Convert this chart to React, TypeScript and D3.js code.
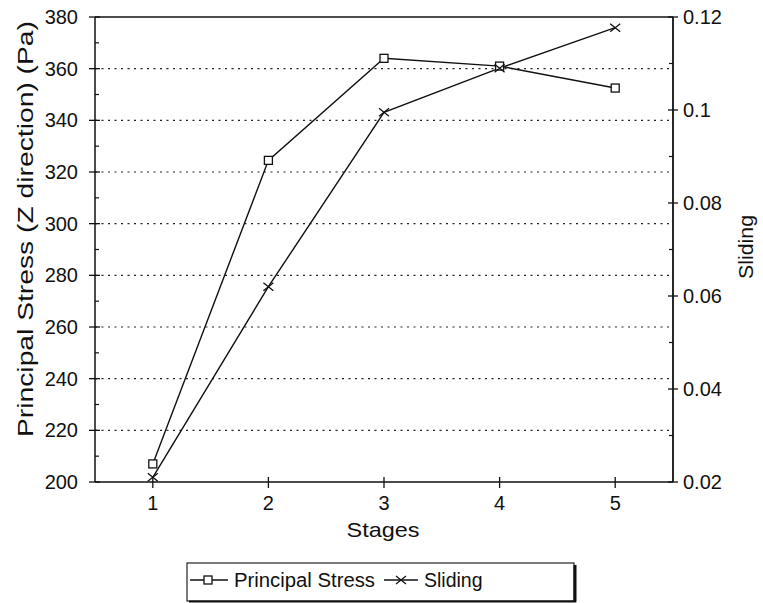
import React from 'react';
import { scaleLinear, line, range } from 'd3';

const stages = [1, 2, 3, 4, 5];
const principalStress = [207, 324.5, 364, 361, 352.5];
const sliding = [0.021, 0.062, 0.0995, 0.109, 0.1177];
const leftTicks = [200, 220, 240, 260, 280, 300, 320, 340, 360, 380];
const rightTicks = [0.02, 0.04, 0.06, 0.08, 0.1, 0.12];
const xTicks = [1, 2, 3, 4, 5];

const W = 763;
const H = 603;
const plot = { left: 95, right: 673, top: 17, bottom: 482 };
const font = 'Liberation Sans, Arial, sans-serif';

const App = () => {
  const x = scaleLinear().domain([0.5, 5.5]).range([plot.left, plot.right]);
  const yL = scaleLinear().domain([200, 380]).range([plot.bottom, plot.top]);
  const yR = scaleLinear().domain([0.02, 0.12]).range([plot.bottom, plot.top]);

  const stressLine = line<number>()
    .x((_, i) => x(stages[i]))
    .y((d) => yL(d));
  const slidingLine = line<number>()
    .x((_, i) => x(stages[i]))
    .y((d) => yR(d));

  const leftMinor = range(210, 380, 20);
  const rightMinor = range(0.03, 0.12, 0.02);

  const square = (cx: number, cy: number, k: string) => (
    <rect key={k} x={cx - 4} y={cy - 4} width={8} height={8} fill="white" stroke="#111" strokeWidth={1.3} />
  );
  const cross = (cx: number, cy: number, k: string) => (
    <path key={k} d={`M${cx - 5},${cy - 4}L${cx + 5},${cy + 4}M${cx - 5},${cy + 4}L${cx + 5},${cy - 4}`} stroke="#111" strokeWidth={1.3} />
  );

  return (
    <svg width={W} height={H} style={{ position: 'absolute', left: 0, top: 0, background: 'white' }} fontFamily={font}>
      {/* dotted grid */}
      {leftTicks
        .filter((t) => t > 200 && t < 380)
        .map((t) => (
          <line key={'g' + t} x1={plot.left} x2={plot.right} y1={yL(t)} y2={yL(t)} stroke="#222" strokeWidth={1.2} strokeDasharray="2,4.5" />
        ))}

      {/* frame */}
      <line x1={plot.left} x2={plot.right} y1={plot.top} y2={plot.top} stroke="#111" strokeWidth={1.5} />
      <line x1={plot.left} x2={plot.right} y1={plot.bottom} y2={plot.bottom} stroke="#111" strokeWidth={1.5} />
      <line x1={plot.left} x2={plot.left} y1={plot.top} y2={plot.bottom} stroke="#111" strokeWidth={1.5} />
      <line x1={plot.right} x2={plot.right} y1={plot.top} y2={plot.bottom} stroke="#111" strokeWidth={1.8} />

      {/* left axis */}
      {leftTicks.map((t) => (
        <g key={'l' + t}>
          <line x1={plot.left - 6} x2={plot.left + 5} y1={yL(t)} y2={yL(t)} stroke="#111" strokeWidth={1.3} />
          <text x={plot.left - 17} y={yL(t)} dy="0.35em" textAnchor="end" fontSize={20} fill="#111">
            {t}
          </text>
        </g>
      ))}
      {leftMinor.map((t) => (
        <line key={'lm' + t} x1={plot.left} x2={plot.left + 4} y1={yL(t)} y2={yL(t)} stroke="#111" strokeWidth={1.2} />
      ))}

      {/* right axis */}
      {rightTicks.map((t) => (
        <g key={'r' + t}>
          <line x1={plot.right - 5} x2={plot.right + 5} y1={yR(t)} y2={yR(t)} stroke="#111" strokeWidth={1.3} />
          <text x={plot.right + 10} y={yR(t)} dy="0.35em" textAnchor="start" fontSize={20} fill="#111">
            {String(t)}
          </text>
        </g>
      ))}
      {rightMinor.map((t) => (
        <line key={'rm' + t} x1={plot.right - 4} x2={plot.right} y1={yR(t)} y2={yR(t)} stroke="#111" strokeWidth={1.2} />
      ))}

      {/* bottom axis */}
      {xTicks.map((t) => (
        <g key={'x' + t}>
          <line x1={x(t)} x2={x(t)} y1={plot.bottom - 5} y2={plot.bottom + 6} stroke="#111" strokeWidth={1.3} />
          <text x={x(t)} y={510} textAnchor="middle" fontSize={20} fill="#111">
            {t}
          </text>
        </g>
      ))}

      {/* axis titles */}
      <text x={383} y={537} textAnchor="middle" fontSize={21} fill="#111" textLength={73} lengthAdjust="spacingAndGlyphs">
        Stages
      </text>
      <text
        transform={`translate(33,229) rotate(-90)`}
        textAnchor="middle"
        fontSize={22}
        fill="#111"
        textLength={416}
        lengthAdjust="spacingAndGlyphs"
      >
        Principal Stress (Z direction) (Pa)
      </text>
      <text transform={`translate(753,247) rotate(-90)`} textAnchor="middle" fontSize={21} fill="#111" textLength={64} lengthAdjust="spacingAndGlyphs">
        Sliding
      </text>

      {/* series */}
      <path d={stressLine(principalStress) || ''} fill="none" stroke="#111" strokeWidth={1.4} />
      <path d={slidingLine(sliding) || ''} fill="none" stroke="#111" strokeWidth={1.4} />
      {principalStress.map((v, i) => square(x(stages[i]), yL(v), 'sq' + i))}
      {sliding.map((v, i) => cross(x(stages[i]), yR(v), 'cx' + i))}

      {/* legend */}
      <g>
        <rect x={187} y={563} width={387} height={38} fill="white" stroke="#222" strokeWidth={1.2} />
        <line x1={575} x2={575} y1={565} y2={602} stroke="#111" strokeWidth={3} />
        <line x1={189} x2={576} y1={601.5} y2={601.5} stroke="#111" strokeWidth={2} />
        <line x1={190} x2={228} y1={580} y2={580} stroke="#111" strokeWidth={1.3} />
        {square(208, 580, 'lgsq')}
        <text x={234} y={587} fontSize={19.5} fill="#111" textLength={141} lengthAdjust="spacingAndGlyphs">
          Principal Stress
        </text>
        <line x1={384} x2={418} y1={580} y2={580} stroke="#111" strokeWidth={1.3} />
        {cross(401, 580, 'lgcx')}
        <text x={424} y={587} fontSize={19.5} fill="#111">
          Sliding
        </text>
      </g>
    </svg>
  );
};

export default App;
